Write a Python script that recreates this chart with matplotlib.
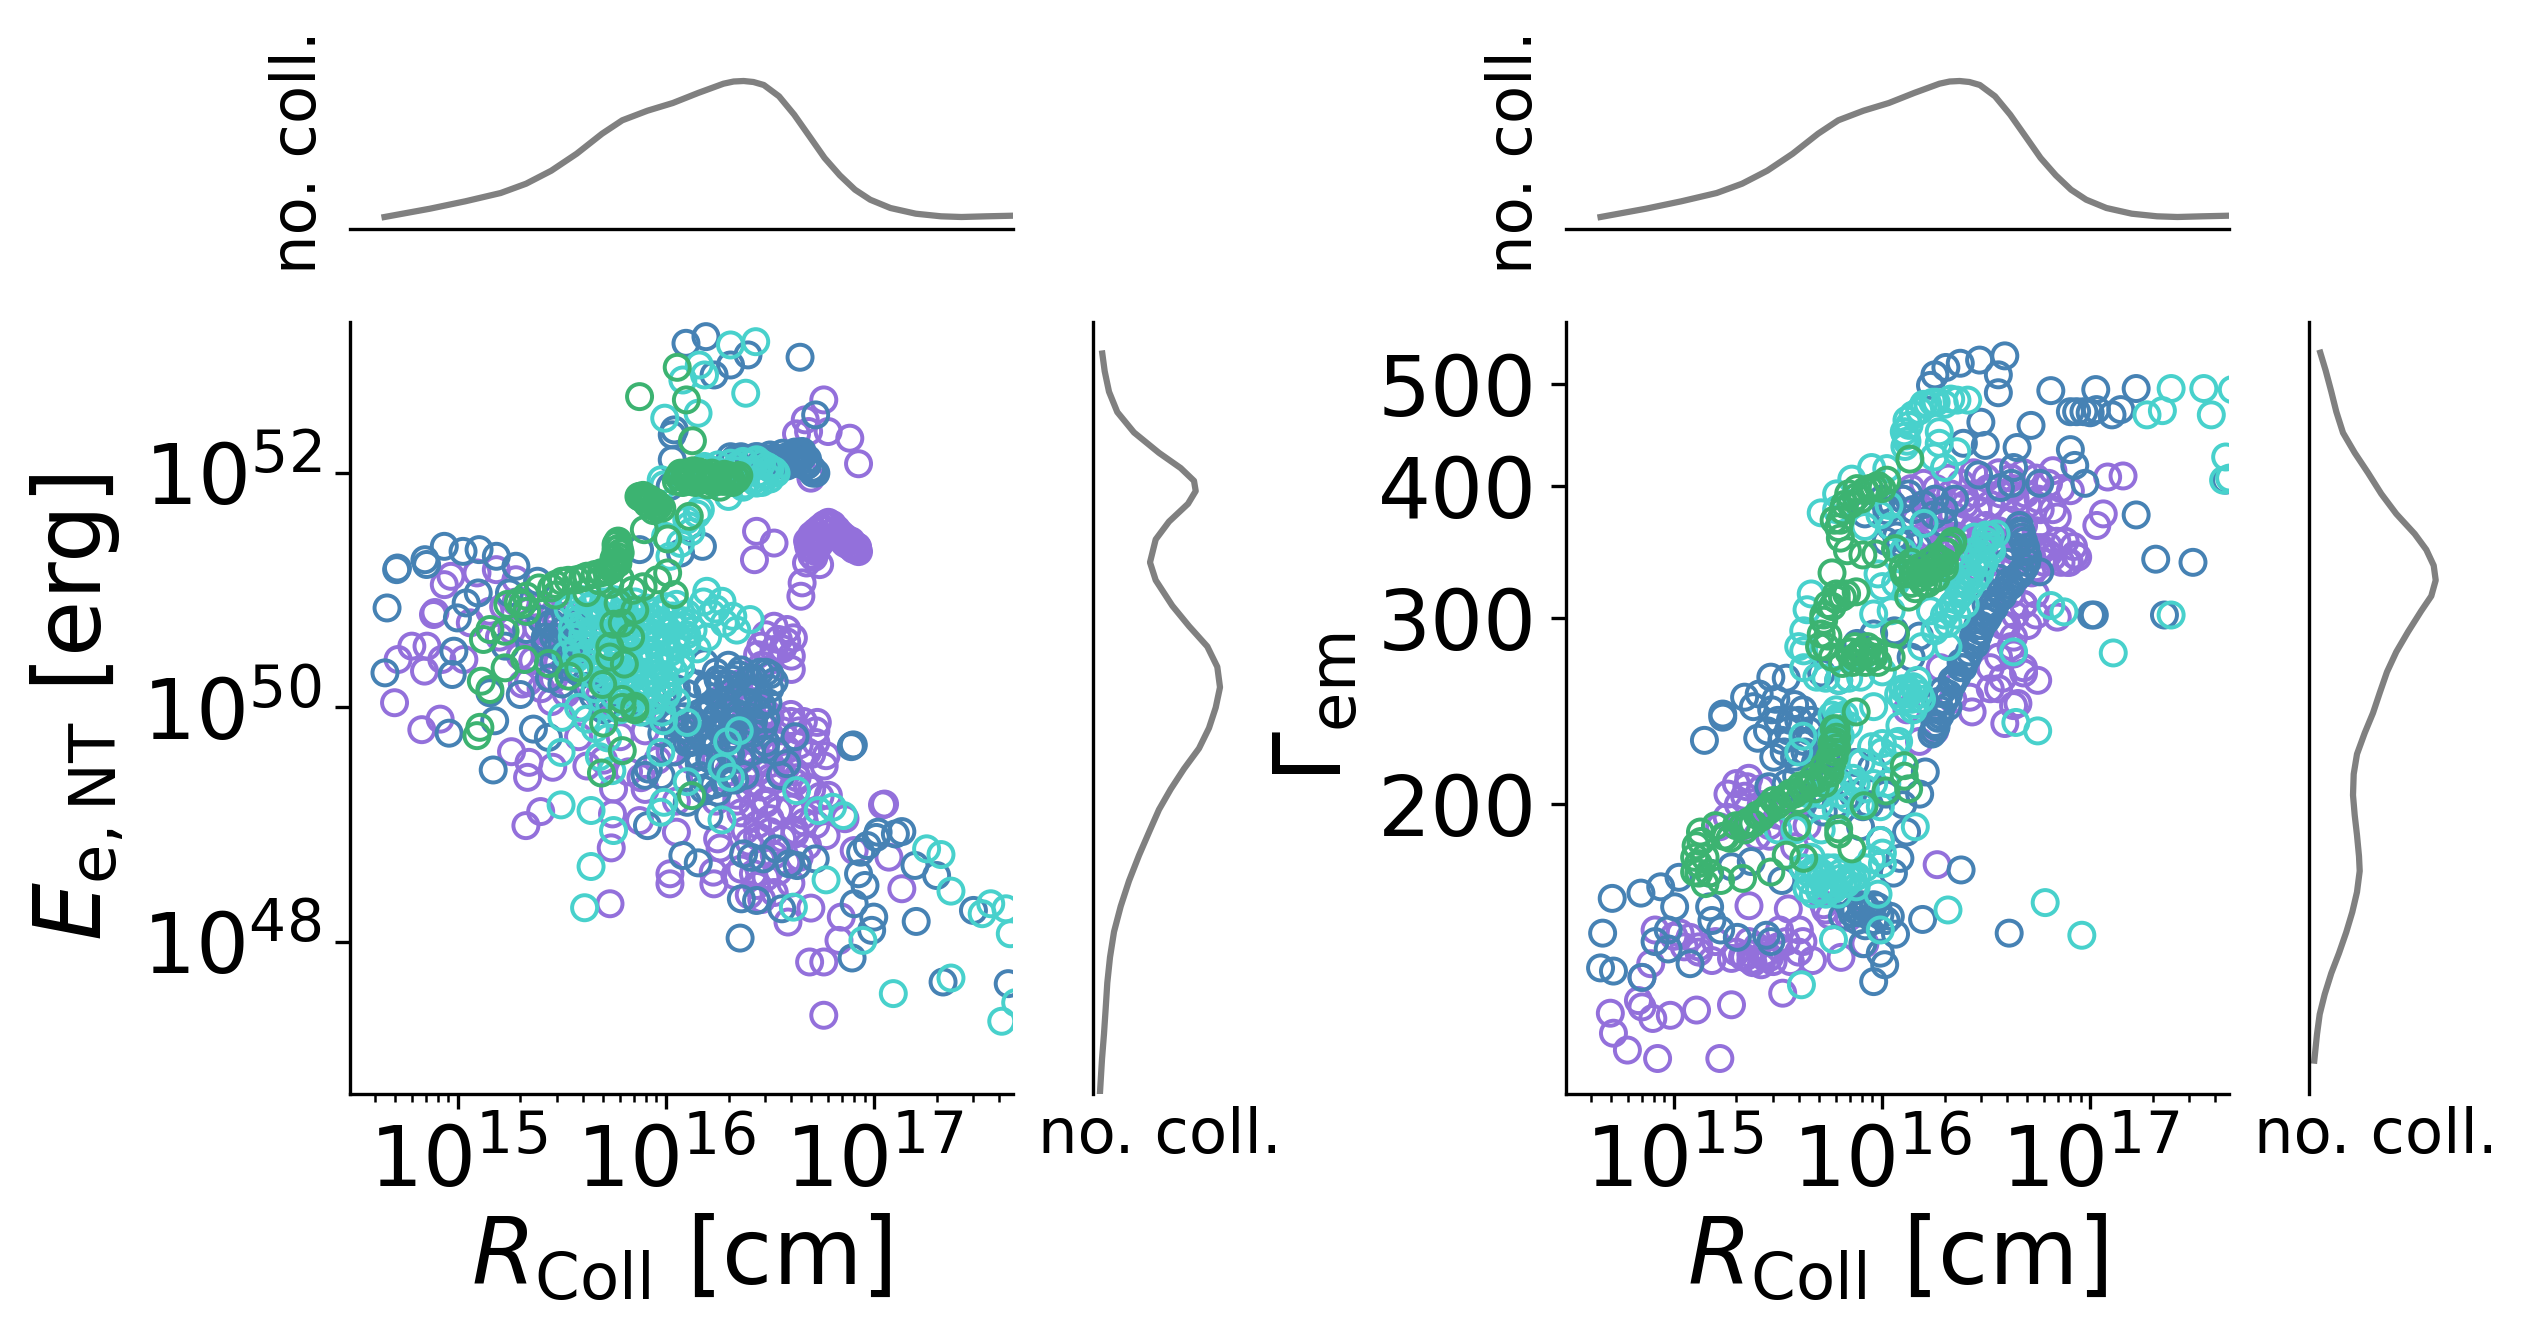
import numpy as np
import matplotlib
matplotlib.use("Agg")
import matplotlib.pyplot as plt

W, H = 2527, 1340

# colours of the four shell populations (drawn in this order)
colors = ["mediumpurple", "steelblue", "mediumturquoise", "mediumseagreen"]

# --- left panel, log10(R_coll) and log10(E_e,NT) ---
purple_r = [
    16.758, 16.669, 16.627, 16.685, 16.779, 16.883, 16.925, 16.696, 16.435, 16.519, 16.425,
    16.779, 16.80, 16.831, 16.87, 16.915, 16.925, 16.727, 16.70, 16.685, 16.76, 16.85, 16.89, 16.92,
    16.74, 16.72, 16.71, 16.80, 16.738, 16.675, 16.654, 16.648, 16.70, 16.69, 16.68,
    14.967, 15.092, 15.185, 15.279, 14.935, 14.883, 14.89, 15.06, 15.154, 14.779, 14.852, 14.713, 14.84,
    14.923, 15.029, 14.696, 14.915, 14.827, 15.258, 15.342, 15.335, 15.456, 15.398, 15.327, 15.20, 15.31, 15.45,
    16.519, 16.581, 16.612, 16.456, 16.519, 16.602, 16.602, 16.48, 16.54, 16.56, 16.50, 16.44, 16.46, 16.58,
    16.39, 16.35, 16.42, 16.30, 16.45, 16.38, 16.28, 16.34, 16.40, 16.46, 16.50, 16.32, 16.36, 16.42, 16.48,
    16.38, 16.44, 16.50, 16.34, 16.40, 16.46, 16.52, 16.36, 16.42, 16.48, 16.38, 16.44, 16.50, 16.40, 16.46,
    16.30, 16.34, 16.56, 16.60, 16.64, 16.54, 16.58, 16.62, 16.68, 16.72,
    16.727, 16.769, 16.63, 16.665, 16.769, 17.04, 17.05, 16.904, 17.071, 17.133, 16.842, 16.831, 16.69, 16.758,
    16.696, 16.586, 16.758, 15.731, 15.737, 15.743, 15.748, 15.873, 16.05, 16.019, 16.019, 16.227, 16.23,
    16.331, 16.435, 16.248, 16.26, 16.05, 15.90, 15.82, 15.70, 15.62, 15.58, 15.78, 15.88, 15.96, 16.02, 16.12,
    16.18, 16.24, 15.90, 16.00, 16.10, 16.20, 15.60, 15.68, 15.76, 16.70, 16.78, 16.86, 16.62,
    # filled blob near 10^51.5
    16.70, 16.72, 16.74, 16.76, 16.78, 16.80, 16.82, 16.84, 16.86, 16.88, 16.90, 16.92, 16.72, 16.74, 16.76,
    16.70, 16.69, 16.71, 16.84, 16.86, 16.88, 16.90, 16.92, 16.80, 16.82,
    # dense lower cloud
    16.30, 16.36, 16.42, 16.48, 16.54, 16.60, 16.66, 16.72, 16.34, 16.40, 16.46, 16.52, 16.58, 16.64, 16.70, 16.76,
    16.38, 16.44, 16.50, 16.56, 16.62, 16.68, 16.74, 16.42, 16.48, 16.54, 16.60, 16.66, 16.72, 16.44, 16.50, 16.56,
    16.62, 16.68, 16.46, 16.52, 16.58, 16.64, 16.36, 16.42, 16.48, 16.54, 16.60, 16.40, 16.46, 16.52,
    # left cloud
    15.22, 15.28, 15.34, 15.40, 15.46, 15.52, 15.26, 15.32, 15.38, 15.44, 15.50, 15.30, 15.36, 15.42, 15.48, 15.54,
    15.34, 15.40, 15.46, 15.52,
]
purple_e = [
    52.625, 52.455, 52.335, 52.355, 52.355, 52.298, 52.08, 51.957, 51.503, 51.403, 51.261,
    51.574, 51.55, 51.489, 51.43, 51.375, 51.33, 51.46, 51.43, 51.375, 51.52, 51.42, 51.42, 51.36,
    51.40, 51.33, 51.28, 51.50, 51.219, 51.233, 51.063, 50.949, 51.30, 51.36, 51.42,
    51.119, 51.148, 51.176, 51.09, 51.048, 50.793, 50.81, 50.722, 50.821, 50.523, 50.523, 50.409, 50.31,
    50.409, 50.409, 50.04, 49.9, 49.81, 49.622, 49.531, 49.403, 49.489, 49.111, 48.991, 50.60, 50.20, 50.05,
    50.693, 50.665, 50.594, 50.523, 50.494, 50.438, 50.324, 50.62, 50.58, 50.50, 50.40, 50.45, 50.36, 50.56,
    50.125, 50.20, 50.05, 49.95, 50.00, 49.90, 50.10, 49.80, 49.75, 49.85, 49.92, 49.62, 49.55, 49.62, 49.70,
    49.40, 49.45, 49.52, 49.25, 49.30, 49.32, 49.38, 49.10, 49.15, 49.20, 48.95, 49.00, 49.05, 48.85, 48.88,
    49.45, 49.20, 49.80, 49.88, 49.80, 49.60, 49.50, 49.45, 49.62, 49.70,
    49.872, 49.588, 49.40, 49.02, 48.906, 49.168, 49.175, 48.778, 48.722, 48.452, 48.21, 48.011, 47.827, 47.827,
    48.287, 48.168, 47.372, 48.324, 48.801, 49.091, 49.304, 49.034, 48.935, 48.58, 48.494, 48.594, 48.494,
    48.565, 48.48, 48.878, 48.80, 49.20, 49.30, 49.45, 49.55, 49.50, 49.75, 49.75, 49.40, 49.55, 49.62, 49.55,
    49.40, 49.20, 49.80, 49.90, 49.80, 49.70, 50.00, 50.10, 50.00, 49.30, 49.25, 49.05, 48.95,
    51.47, 51.50, 51.53, 51.56, 51.58, 51.56, 51.52, 51.48, 51.45, 51.42, 51.39, 51.37, 51.40, 51.42, 51.45,
    51.40, 51.36, 51.35, 51.44, 51.40, 51.38, 51.35, 51.34, 51.50, 51.46,
    49.95, 49.98, 49.92, 49.96, 49.90, 49.94, 49.88, 49.80, 49.68, 49.72, 49.66, 49.70, 49.64, 49.68, 49.60, 49.50,
    49.42, 49.46, 49.40, 49.44, 49.36, 49.32, 49.24, 49.15, 49.18, 49.12, 49.14, 49.08, 49.00, 48.90, 48.94, 48.88,
    48.92, 48.82, 48.70, 48.74, 48.68, 48.72, 48.62, 48.58, 48.55, 48.60, 48.50, 48.40, 48.36, 48.42,
    50.86, 50.90, 50.82, 50.86, 50.80, 50.78, 50.66, 50.62, 50.68, 50.62, 50.58, 50.44, 50.40, 50.46, 50.38, 50.42,
    50.22, 50.16, 50.24, 50.12,
]
blue_r = [
    16.096, 16.192, 16.394, 16.31, 16.231, 16.644, 16.04, 16.03, 16.03, 16.719, 16.02, 16.175, 16.07, 15.873,
    16.31, 16.37, 16.43, 16.50, 16.56, 16.62, 16.654, 16.68, 16.706, 16.68, 16.60, 16.52, 16.46, 16.40,
    14.706, 14.71, 14.842, 14.85, 14.935, 15.025, 15.102, 15.185, 15.279, 15.383, 14.66, 15.098, 15.04, 14.998,
    15.248, 15.331, 15.227, 14.981, 14.65, 14.973, 15.154, 15.30, 15.45, 15.50, 15.55, 15.42, 15.48, 15.54, 15.60,
    15.46, 15.52, 15.44, 15.50, 15.58, 15.62,
    16.185, 16.24, 16.30, 16.36, 16.42, 16.48, 16.52, 16.20, 16.26, 16.32, 16.38, 16.44, 16.50, 16.22, 16.28,
    16.34, 16.40, 16.46, 16.24, 16.30, 16.36, 16.42, 16.48, 16.14, 16.20, 16.26, 16.32, 16.38, 16.06, 16.12,
    16.18, 16.24, 16.30, 15.98, 16.04, 16.10, 16.16, 16.22, 16.28, 15.92, 15.98, 16.04, 16.10, 16.16, 16.22,
    14.958, 15.177, 15.17, 15.363, 15.435, 16.894, 16.90, 16.89, 16.477, 16.48, 16.55, 15.915, 15.90, 15.977,
    16.081, 16.155, 15.911, 16.373, 16.41, 16.467, 16.529, 16.592, 16.63, 16.717, 16.362, 16.435, 16.556,
    16.356, 16.925, 16.956, 16.904, 16.998, 16.988, 16.894, 17.202, 16.935, 16.967, 17.019, 17.01, 17.102, 17.133,
    17.196, 17.30, 17.477, 17.331, 17.644, 16.248, 16.206, 16.102, 16.165, 16.53, 16.58, 16.62, 15.65, 15.70,
    # filled end of the upper track
    16.56, 16.58, 16.60, 16.62, 16.64, 16.66, 16.68, 16.70, 16.72, 16.58, 16.61, 16.64, 16.67, 16.70, 16.55, 16.52,
    16.48, 16.44, 16.40, 16.36, 16.33,
    # dense patches
    15.40, 15.44, 15.48, 15.52, 15.56, 15.42, 15.46, 15.50, 15.54, 15.58, 16.00, 16.05, 16.10, 16.15, 16.20, 16.25,
    16.30, 16.35, 16.40, 16.45, 16.50, 16.04, 16.09, 16.14, 16.19, 16.24, 16.29, 16.34, 16.39, 16.44, 16.49, 16.12,
    16.17, 16.22, 16.27, 16.32, 16.37, 16.42, 16.47, 16.16, 16.21, 16.26, 16.31, 16.36, 16.41, 16.18, 16.23, 16.28,
    16.33, 16.38,
]
blue_e = [
    53.108, 53.165, 53.009, 52.923, 52.838, 52.989, 52.369, 52.327, 52.114, 52.497, 51.886, 51.375, 51.318, 51.347,
    52.14, 52.13, 52.14, 52.155, 52.17, 52.18, 52.185, 52.12, 52.0, 52.07, 52.10, 52.11, 52.10, 52.08,
    51.176, 51.19, 51.261, 51.22, 51.375, 51.332, 51.347, 51.29, 51.205, 51.077, 50.849, 50.977, 50.892, 50.764,
    50.977, 50.665, 50.523, 50.48, 50.295, 50.281, 50.125, 50.11, 50.72, 50.65, 50.58, 50.60, 50.52, 50.48, 50.66,
    50.40, 50.35, 50.25, 50.20, 50.30, 50.18,
    50.38, 50.30, 50.36, 50.32, 50.25, 50.30, 50.22, 50.18, 50.20, 50.24, 50.15, 50.12, 50.16, 50.02, 50.06,
    50.08, 50.04, 50.02, 49.92, 49.96, 49.92, 49.88, 49.90, 49.82, 49.85, 49.80, 49.82, 49.78, 49.75, 49.70,
    49.72, 49.68, 49.62, 49.78, 49.62, 49.70, 49.58, 49.55, 49.50, 49.95, 49.90, 49.88, 49.82, 49.95, 50.0,
    49.78, 49.886, 49.466, 49.815, 49.744, 49.673, 49.68, 49.665, 49.645, 49.70, 49.418, 49.474, 49.42, 49.418,
    48.736, 48.673, 48.991, 48.75, 48.72, 48.707, 48.793, 48.665, 48.65, 48.707, 48.366, 48.352, 48.281,
    48.031, 48.58, 48.48, 48.324, 48.21, 48.097, 47.861, 48.173, 48.764, 48.821, 48.935, 48.89, 48.92, 48.94,
    48.651, 48.565, 48.267, 47.656, 47.642, 49.276, 49.077, 49.19, 49.418, 49.62, 49.52, 49.75, 50.10, 49.98,
    52.12, 52.14, 52.15, 52.16, 52.17, 52.15, 52.09, 52.04, 52.0, 52.06, 52.08, 52.10, 52.06, 52.02, 52.10, 52.13,
    52.12, 52.14, 52.12, 52.14, 52.12,
    50.75, 50.70, 50.74, 50.68, 50.72, 50.56, 50.60, 50.54, 50.58, 50.50, 50.10, 50.16, 50.12, 50.20, 50.16, 50.24,
    50.20, 50.28, 50.24, 50.30, 50.28, 49.86, 49.92, 49.88, 49.94, 49.90, 49.98, 49.94, 50.02, 49.98, 50.04, 49.72,
    49.76, 49.74, 49.80, 49.76, 49.82, 49.78, 49.84, 49.52, 49.56, 49.54, 49.60, 49.56, 49.62, 49.30, 49.34, 49.36,
    49.38, 49.42,
]
turq_r = [
    16.31, 16.431, 16.16, 16.081, 16.185, 16.383, 16.154, 15.994,
    16.185, 16.25, 16.31, 16.37, 16.435, 16.485, 16.529, 16.50, 16.435, 16.37, 16.3, 15.977, 15.99, 16.165, 16.15, 15.998,
    16.07, 16.019, 16.10, 16.12, 16.11,
    15.55, 15.60, 15.65, 15.70, 15.75, 15.80, 15.85, 15.90, 15.95, 16.00, 16.05, 16.10, 15.58, 15.63, 15.68, 15.73,
    15.78, 15.83, 15.88, 15.93, 15.98, 16.03, 16.08, 16.13, 15.55, 15.60, 15.65, 15.70, 15.75, 15.80, 15.85, 15.90,
    15.95, 16.00, 16.05, 16.10, 16.15, 15.52, 15.57, 15.62, 15.67, 15.72, 15.77, 15.82, 15.87, 15.92, 15.97, 16.02,
    16.07, 15.65, 15.70, 15.75, 15.80, 15.85, 15.90, 15.95, 16.00, 15.75, 15.80, 15.85, 15.90, 15.95, 16.00, 16.05,
    16.196, 16.269, 16.321, 16.404, 16.22, 16.28, 16.34, 16.18, 16.24, 16.20,
    15.5, 15.496, 15.496, 15.64, 15.748, 15.64, 15.609, 15.975, 15.99, 16.269, 16.102, 16.31, 16.269, 16.296, 16.352,
    15.975, 16.102, 15.988, 16.627, 16.731, 16.80, 16.852, 17.252, 17.321, 17.369, 17.56, 17.519, 17.633, 17.654,
    16.612, 16.769, 16.946, 17.369, 17.092, 17.613, 17.68, 15.58, 15.62, 15.66, 15.72, 15.68, 15.74,
    # filled part of the upper track
    16.34, 16.38, 16.42, 16.46, 16.50, 16.52, 16.40, 16.44, 16.48, 16.36, 16.32, 16.28, 16.24, 16.20, 16.42, 16.46,
    16.38, 16.34,
    # central cloud
    15.53, 15.58, 15.63, 15.68, 15.73, 15.78, 15.83, 15.88, 15.93, 15.98, 16.03, 16.08, 15.55, 15.60, 15.65, 15.70,
    15.75, 15.80, 15.85, 15.90, 15.95, 16.00, 16.05, 16.10, 15.57, 15.62, 15.67, 15.72, 15.77, 15.82, 15.87, 15.92,
    15.97, 16.02, 16.07, 15.59, 15.64, 15.69, 15.74, 15.79, 15.84, 15.89, 15.94, 15.99, 16.04, 15.66, 15.71, 15.76,
    15.81, 15.86, 15.91, 15.96, 16.01, 15.73, 15.78, 15.83, 15.88, 15.93, 15.98,
]
turq_e = [
    53.094, 53.122, 52.923, 52.795, 52.838, 52.682, 52.511, 52.469,
    52.057, 52.07, 52.085, 52.10, 52.114, 52.057, 52.0, 51.95, 51.915, 51.88, 51.801, 51.943, 51.90, 51.688, 51.65, 51.46,
    51.40, 51.29, 51.60, 51.50, 51.55,
    50.90, 50.92, 50.88, 50.90, 50.92, 50.88, 50.90, 50.85, 50.82, 50.86, 50.88, 50.80, 50.75, 50.78, 50.74, 50.76,
    50.72, 50.75, 50.72, 50.68, 50.72, 50.70, 50.74, 50.66, 50.60, 50.62, 50.58, 50.60, 50.56, 50.58, 50.55, 50.58,
    50.54, 50.56, 50.52, 50.56, 50.50, 50.45, 50.42, 50.46, 50.42, 50.44, 50.40, 50.42, 50.38, 50.40, 50.36, 50.38,
    50.34, 50.28, 50.25, 50.28, 50.24, 50.26, 50.22, 50.25, 50.20, 50.10, 50.14, 50.08, 50.12, 50.06, 50.10, 50.05,
    50.991, 50.906, 50.778, 50.75, 50.80, 50.72, 50.66, 50.90, 50.84, 50.60,
    49.915, 49.616, 49.168, 49.12, 48.949, 48.642, 48.29, 49.105, 49.19, 49.04, 49.366, 49.403, 49.489, 49.707, 49.801,
    49.616, 49.872, 49.886, 49.29, 49.119, 49.148, 49.077, 48.793, 48.744, 48.432, 48.324, 48.239, 48.281, 48.068,
    48.295, 48.528, 48.011, 47.69, 47.557, 47.321, 47.48, 50.00, 49.90, 49.82, 49.74, 49.58, 49.46,
    52.06, 52.09, 52.10, 52.08, 52.04, 52.02, 52.02, 52.0, 51.98, 51.96, 51.94, 51.98, 52.02, 52.04, 51.94, 51.92,
    51.90, 52.02,
    50.84, 50.80, 50.85, 50.81, 50.84, 50.80, 50.83, 50.79, 50.77, 50.80, 50.78, 50.70, 50.68, 50.71, 50.66, 50.69,
    50.65, 50.68, 50.64, 50.67, 50.63, 50.65, 50.60, 50.62, 50.50, 50.53, 50.49, 50.52, 50.48, 50.50, 50.46, 50.49,
    50.45, 50.47, 50.42, 50.34, 50.37, 50.33, 50.35, 50.31, 50.34, 50.30, 50.32, 50.28, 50.30, 50.16, 50.19, 50.15,
    50.18, 50.14, 50.16, 50.12, 50.14, 50.02, 49.98, 50.02, 49.96, 50.0, 49.96,
]
green_r = [
    16.054, 15.873, 16.098, 16.127,
    16.06, 16.09, 16.12, 16.15, 16.18, 16.21, 16.24, 16.27, 16.30, 16.33, 16.35, 16.08, 16.14, 16.20, 16.26, 16.32,
    15.883, 15.90, 15.93, 15.95, 15.98, 16.112, 15.896, 16.008, 15.87, 15.91, 15.94,
    15.769, 15.76, 15.75, 15.769, 15.74, 15.69, 15.62, 15.57, 15.50, 15.45, 15.39, 15.33, 15.31, 15.24, 15.29, 15.33,
    15.47, 15.62, 15.68, 15.73, 15.78, 15.72,
    16.008, 15.96, 15.89, 15.84, 16.04, 15.77, 15.85, 15.79, 15.75, 15.83, 15.73, 15.73, 15.80,
    15.154, 15.123, 15.227, 15.227, 15.321, 15.435, 15.581, 15.533, 15.113, 15.154, 15.696, 15.79, 15.85,
    15.106, 15.092, 15.70, 15.79, 15.69, 16.123, 15.79, 15.85,
    # filled blob and the bent track below it
    16.07, 16.10, 16.13, 16.16, 16.19, 16.22, 16.25, 16.28, 16.31, 16.34, 16.05, 16.11, 16.17, 16.23, 16.29, 16.12,
    16.18, 16.24, 16.30, 16.10, 16.16, 16.22,
    15.875, 15.89, 15.905, 15.92, 15.935, 15.95, 15.965,
    15.77, 15.76, 15.775, 15.78, 15.765, 15.755, 15.745, 15.72, 15.66, 15.60, 15.53, 15.47,
]
green_e = [
    52.903, 52.653, 52.625, 52.276,
    51.97, 52.0, 52.0, 51.99, 51.97, 51.96, 51.95, 51.93, 51.95, 51.97, 51.98, 51.92, 51.92, 51.90, 51.88, 51.92,
    51.787, 51.78, 51.76, 51.72, 51.70, 51.631, 51.517, 51.438, 51.80, 51.74, 51.68,
    51.403, 51.345, 51.27, 51.23, 51.18, 51.15, 51.12, 51.09, 51.077, 51.02, 51.02, 50.95, 50.88, 50.88, 50.90, 50.82,
    50.96, 50.98, 51.08, 51.05, 51.10, 51.16,
    51.148, 51.09, 51.03, 51.0, 50.963, 50.89, 50.83, 50.72, 50.71, 50.60, 50.52, 50.43, 50.37,
    50.665, 50.58, 50.65, 50.338, 50.409, 50.375, 50.338, 50.267, 50.224, 50.153, 50.196, 50.068, 50.01,
    49.83, 49.759, 49.866, 49.631, 49.44, 49.247, 50.0, 49.98,
    52.0, 51.98, 52.02, 52.01, 51.99, 51.93, 51.97, 51.99, 51.96, 51.95, 51.93, 51.93, 51.94, 51.92, 51.93, 51.98,
    51.96, 51.96, 51.98, 51.95, 51.98, 52.0,
    51.80, 51.81, 51.79, 51.78, 51.76, 51.75, 51.72,
    51.42, 51.39, 51.36, 51.32, 51.29, 51.24, 51.21, 51.16, 51.135, 51.105, 51.085, 51.05,
]

# --- right panel, log10(R_coll) and log10(Gamma_em) ---
purple2_r = [
    16.10, 16.14, 16.20, 16.26, 16.32, 16.38, 16.44, 16.50, 16.56, 16.62, 16.68, 16.74, 16.80, 16.86, 16.16, 16.22,
    16.28, 16.34, 16.40, 16.46, 16.52, 16.58, 16.64, 16.70, 16.76, 16.82, 16.20, 16.26, 16.32, 16.38, 16.44, 16.50,
    16.56, 16.62, 16.68, 16.74, 16.25, 16.31, 16.37, 16.43, 16.49, 16.55,
    16.821, 16.905, 16.842, 17.158, 17.084, 17.063, 17.032, 16.926, 16.89, 16.8, 16.76, 16.737, 16.842, 16.68,
    16.632, 16.632, 16.748, 16.68, 16.653, 16.52, 16.46, 16.422, 16.56, 16.632, 16.59, 16.433, 16.254, 16.60, 16.72,
    15.351, 15.34, 15.31, 15.256, 15.22, 15.55, 15.361, 15.729, 15.75, 15.72, 15.84, 16.265,
    14.91, 15.078, 15.183, 15.277, 15.37, 15.37, 15.477, 15.56, 15.666, 15.803, 15.603, 15.508, 15.918, 15.60, 15.43,
    15.33, 15.12, 15.03, 14.847, 14.889, 14.83, 14.847, 14.899, 14.983, 15.109, 15.277, 14.695, 14.71, 14.777, 14.922,
    15.221, 15.523, 15.42, 15.46, 15.50, 15.58, 15.64, 16.12, 16.18, 16.28, 16.34,
    # filled blob at the top end
    16.72, 16.76, 16.80, 16.84, 16.88, 16.92, 16.94, 16.90, 16.86, 16.82, 16.78, 16.74,
    16.15, 16.21, 16.27, 16.33, 16.39, 16.45, 16.51, 16.57, 16.63, 16.69, 16.75, 16.18, 16.24, 16.30, 16.36, 16.42,
    16.48, 16.54, 16.60, 16.66, 16.72, 16.22, 16.28, 16.34, 16.40, 16.46, 16.52, 16.58,
    16.62, 16.68, 16.74, 16.58, 16.64, 16.70, 16.56, 16.62, 16.68, 16.52, 16.58,
    15.30, 15.34, 15.38, 15.42, 15.46, 15.36, 15.40, 15.44, 15.50, 15.20, 15.12, 15.05, 15.0, 15.54, 15.62,
    15.26, 15.30, 15.36, 15.42, 15.34, 15.40, 15.46,
]
purple2_g = [
    2.59, 2.60, 2.605, 2.60, 2.61, 2.605, 2.615, 2.61, 2.615, 2.61, 2.615, 2.61, 2.605, 2.60, 2.57, 2.575,
    2.58, 2.575, 2.585, 2.58, 2.585, 2.58, 2.59, 2.585, 2.58, 2.58, 2.555, 2.56, 2.555, 2.565, 2.56, 2.565,
    2.56, 2.57, 2.565, 2.56, 2.535, 2.54, 2.545, 2.54, 2.545, 2.55,
    2.617, 2.598, 2.573, 2.612, 2.611, 2.576, 2.565, 2.537, 2.53, 2.538, 2.544, 2.50, 2.478, 2.49,
    2.459, 2.443, 2.418, 2.425, 2.396, 2.43, 2.46, 2.402, 2.41, 2.394, 2.377, 2.388, 2.37, 2.47, 2.52,
    2.317, 2.308, 2.30, 2.288, 2.279, 2.201, 2.204, 2.20, 2.195, 2.205, 2.193, 2.243,
    2.181, 2.174, 2.152, 2.154, 2.158, 2.152, 2.151, 2.151, 2.152, 2.155, 2.181, 2.181, 2.168, 2.16, 2.156,
    2.156, 2.165, 2.178, 2.136, 2.149, 2.114, 2.108, 2.097, 2.10, 2.105, 2.11, 2.102, 2.083, 2.067, 2.059,
    2.059, 2.121, 2.30, 2.27, 2.29, 2.26, 2.28, 2.39, 2.36, 2.43, 2.40,
    2.535, 2.54, 2.545, 2.55, 2.55, 2.545, 2.535, 2.53, 2.53, 2.535, 2.53, 2.525,
    2.58, 2.585, 2.59, 2.595, 2.59, 2.595, 2.60, 2.595, 2.60, 2.595, 2.59, 2.55, 2.555, 2.55, 2.555, 2.55,
    2.555, 2.55, 2.545, 2.55, 2.545, 2.525, 2.53, 2.525, 2.53, 2.525, 2.53, 2.52,
    2.50, 2.49, 2.48, 2.47, 2.48, 2.47, 2.44, 2.45, 2.43, 2.41, 2.42,
    2.16, 2.155, 2.15, 2.148, 2.155, 2.17, 2.165, 2.16, 2.165, 2.17, 2.16, 2.165, 2.175, 2.17, 2.17,
    2.31, 2.32, 2.325, 2.315, 2.28, 2.27, 2.28,
]
blue2_r = [
    16.59, 16.469, 16.376, 16.307, 16.254, 16.233, 16.559, 16.559, 16.811, 17.027, 17.221,
    16.905, 16.935, 16.97, 17.0, 17.03, 17.105, 17.147, 16.475, 16.496, 16.391, 16.716, 16.649, 16.905, 16.926, 16.975,
    16.632, 16.622, 16.569, 16.758, 16.464, 17.221, 17.315, 17.494, 17.006, 17.02, 17.357, 17.651, 16.758,
    16.349, 16.254, 16.128, 16.023, 16.202, 16.04, 15.918, 16.296, 16.086,
    16.664, 16.67, 16.69, 16.70, 16.67, 16.61, 16.57, 16.53, 16.51, 16.47, 16.45, 16.41, 16.39, 16.336, 16.29, 16.27,
    16.317, 16.28, 16.254, 16.25, 16.24, 16.64, 16.60, 16.56, 16.50, 16.46, 16.44, 16.38, 16.35,
    15.235, 15.34, 15.466, 15.54, 15.41, 15.49, 15.58, 15.62, 15.792, 15.71, 15.88, 15.96, 16.06, 16.14, 16.18,
    15.235, 15.147, 15.403, 15.519, 15.624, 15.382, 15.47, 15.56, 15.66, 15.54, 15.59, 15.687, 15.456,
    15.718, 15.897, 16.118, 15.992, 16.086, 16.055, 16.208, 16.181, 15.908, 15.87, 15.95,
    15.519, 15.372, 15.277, 15.172, 15.025, 14.937, 14.842, 14.704, 14.658, 14.648, 14.71, 14.847, 15.078, 14.973,
    14.91, 14.973, 15.004, 15.172, 15.183, 15.225, 15.305, 15.445, 15.466, 15.855, 15.90, 15.92, 15.98, 15.81, 16.04,
    16.065, 15.992, 16.013, 15.96, 16.195, 16.38, 16.611, 15.908, 15.62, 15.70, 15.78, 15.86, 15.94, 16.02, 16.10,
    # thick band
    16.66, 16.67, 16.68, 16.69, 16.695, 16.685, 16.66, 16.64, 16.62, 16.60, 16.58, 16.56, 16.54, 16.52, 16.50, 16.48,
    16.46, 16.44, 16.42, 16.40, 16.38, 16.36, 16.34, 16.32, 16.30, 16.28, 16.27, 16.26,
    15.45, 15.50, 15.55, 15.60, 15.65, 15.70, 15.75, 15.48, 15.53, 15.58, 15.63, 15.68, 15.73,
    15.84, 15.87, 15.90, 15.93, 15.96, 15.99, 16.02, 15.88, 15.92, 15.96,
    16.0, 16.05, 16.1, 16.15, 16.2, 16.25, 16.3, 16.02, 16.07, 16.12, 16.17,
]
blue2_g = [
    2.726, 2.722, 2.719, 2.715, 2.708, 2.698, 2.708, 2.691, 2.693, 2.694, 2.695,
    2.673, 2.673, 2.673, 2.672, 2.675, 2.67, 2.675, 2.663, 2.641, 2.643, 2.66, 2.639, 2.637, 2.622, 2.605,
    2.62, 2.605, 2.601, 2.605, 2.613, 2.575, 2.533, 2.53, 2.48, 2.48, 2.48, 2.608, 2.521,
    2.59, 2.59, 2.595, 2.579, 2.567, 2.564, 2.576, 2.567, 2.548,
    2.56, 2.554, 2.544, 2.535, 2.521, 2.512, 2.502, 2.49, 2.478, 2.465, 2.452, 2.44, 2.43, 2.418, 2.408, 2.398,
    2.393, 2.385, 2.377, 2.37, 2.367, 2.545, 2.53, 2.515, 2.49, 2.47, 2.46, 2.435, 2.42,
    2.386, 2.402, 2.421, 2.42, 2.405, 2.40, 2.395, 2.39, 2.418, 2.425, 2.453, 2.462, 2.465, 2.44, 2.46,
    2.383, 2.361, 2.363, 2.361, 2.36, 2.393, 2.39, 2.38, 2.38, 2.32, 2.327, 2.334, 2.317,
    2.293, 2.279, 2.274, 2.266, 2.249, 2.235, 2.331, 2.31, 2.298, 2.34, 2.335,
    2.228, 2.246, 2.241, 2.235, 2.231, 2.222, 2.216, 2.211, 2.178, 2.145, 2.142, 2.136, 2.149, 2.163,
    2.17, 2.181, 2.203, 2.203, 2.19, 2.181, 2.174, 2.176, 2.17, 2.197, 2.197, 2.203, 2.203, 2.194, 2.194,
    2.177, 2.159, 2.148, 2.132, 2.191, 2.238, 2.178, 2.168, 2.30, 2.31, 2.30, 2.31, 2.30, 2.31, 2.30,
    2.565, 2.558, 2.55, 2.54, 2.53, 2.525, 2.518, 2.515, 2.508, 2.505, 2.498, 2.495, 2.487, 2.483, 2.475, 2.47,
    2.46, 2.455, 2.445, 2.437, 2.43, 2.422, 2.415, 2.405, 2.398, 2.39, 2.382, 2.374,
    2.37, 2.38, 2.37, 2.38, 2.37, 2.375, 2.365, 2.345, 2.35, 2.345, 2.35, 2.34, 2.345,
    2.205, 2.20, 2.205, 2.20, 2.205, 2.195, 2.19, 2.19, 2.185, 2.19,
    2.59, 2.585, 2.59, 2.58, 2.585, 2.575, 2.58, 2.55, 2.555, 2.55, 2.545,
]
turq2_r = [
    16.412, 16.33, 16.244, 16.181, 16.12, 16.107, 16.12, 16.275, 16.275, 16.359, 16.30, 16.25,
    17.389, 17.546, 17.683, 17.273, 17.347, 17.582, 17.651, 17.641, 17.67,
    15.95, 15.855, 15.782, 15.708, 15.782, 16.023, 16.034, 16.202, 16.044, 15.918, 16.128, 16.10, 15.99,
    16.443, 16.50, 16.548, 16.527, 16.49, 16.47, 16.45, 16.422, 16.38, 16.34, 16.40, 16.36, 16.42,
    15.981, 16.065, 16.002, 16.233, 16.317, 16.191, 16.317, 16.254, 16.044, 15.96, 16.811, 16.874, 17.389, 17.111, 16.632,
    15.624, 15.624, 15.624, 15.687, 15.792, 15.897, 16.002, 15.64, 15.66, 15.60, 15.73, 15.84,
    16.149, 16.128, 16.17, 16.10, 16.19, 16.16,
    15.96, 15.792, 15.76, 15.792, 16.086, 16.002, 16.065, 15.876, 15.792, 15.96, 16.023, 15.708, 15.992, 16.16,
    16.643, 16.748, 15.582, 15.50, 15.708, 15.992, 16.002,
    15.672, 15.708, 15.75, 15.65, 15.813, 15.876, 15.981, 16.002, 15.95, 15.77, 15.70, 15.68, 15.72, 15.76, 15.80,
    15.84, 15.88, 15.92, 15.66, 15.62, 15.60,
    16.317, 15.992, 15.767, 15.613, 16.784, 16.96,
    # filled stretches
    16.52, 16.50, 16.48, 16.46, 16.44, 16.42, 16.40, 16.38, 16.36, 16.34, 16.32, 16.30, 16.36, 16.40, 16.44, 16.48,
    16.52, 16.28,
    16.12, 16.14, 16.16, 16.10, 16.08, 16.15, 16.18,
    15.76, 15.78, 15.80, 15.82, 15.78, 15.80, 15.76, 15.84,
    16.15, 16.13, 16.115, 16.11, 16.2, 16.22, 16.26, 16.30, 16.36,
    15.62, 15.65, 15.68, 15.71, 15.74, 15.77, 15.80, 15.83, 15.86, 15.64, 15.67, 15.70, 15.73, 15.76, 15.79,
    15.65, 15.72, 15.80, 15.86, 15.92, 15.70, 15.78, 15.84, 15.90,
    16.0, 16.05, 16.08, 15.95, 15.90,
]
turq2_g = [
    2.684, 2.685, 2.682, 2.674, 2.665, 2.654, 2.645, 2.654, 2.643, 2.635, 2.62, 2.63,
    2.695, 2.695, 2.694, 2.67, 2.674, 2.67, 2.63, 2.608, 2.61,
    2.62, 2.609, 2.595, 2.577, 2.58, 2.619, 2.584, 2.567, 2.564, 2.564, 2.551, 2.54, 2.575,
    2.554, 2.556, 2.557, 2.541, 2.53, 2.52, 2.514, 2.507, 2.50, 2.49, 2.49, 2.48, 2.515,
    2.519, 2.51, 2.507, 2.484, 2.472, 2.45, 2.45, 2.465, 2.484, 2.481, 2.489, 2.483, 2.48, 2.444, 2.445,
    2.465, 2.446, 2.43, 2.421, 2.418, 2.421, 2.426, 2.485, 2.50, 2.45, 2.42, 2.42,
    2.412, 2.405, 2.418, 2.41, 2.40, 2.395,
    2.393, 2.377, 2.367, 2.383, 2.375, 2.358, 2.358, 2.32, 2.32, 2.32, 2.32, 2.31, 2.298, 2.279,
    2.378, 2.37, 2.276, 2.276, 2.276, 2.266, 2.254,
    2.238, 2.231, 2.225, 2.228, 2.225, 2.222, 2.215, 2.244, 2.248, 2.24, 2.218, 2.235, 2.225, 2.222, 2.235,
    2.23, 2.232, 2.24, 2.25, 2.365, 2.35,
    2.2, 2.181, 2.172, 2.129, 2.207, 2.176,
    2.555, 2.55, 2.545, 2.535, 2.525, 2.52, 2.51, 2.505, 2.495, 2.49, 2.485, 2.48, 2.51, 2.53, 2.54, 2.53,
    2.545, 2.47,
    2.41, 2.40, 2.41, 2.40, 2.405, 2.39, 2.405,
    2.385, 2.39, 2.38, 2.385, 2.37, 2.365, 2.36, 2.375,
    2.67, 2.66, 2.65, 2.64, 2.68, 2.68, 2.682, 2.68, 2.684,
    2.24, 2.235, 2.24, 2.235, 2.24, 2.22, 2.23, 2.225, 2.23, 2.22, 2.215, 2.22, 2.215, 2.22, 2.215,
    2.31, 2.32, 2.31, 2.325, 2.315, 2.30, 2.295, 2.305, 2.30,
    2.35, 2.345, 2.36, 2.355, 2.34,
]
green2_r = [
    16.134, 16.023, 15.96, 15.876, 15.813, 15.792, 15.80, 15.834, 15.908, 15.97, 16.065, 15.77, 15.85, 15.92,
    16.338, 16.31, 16.28, 16.254, 16.22, 16.19, 16.107, 16.15, 16.254, 16.30, 16.128, 16.16, 16.20,
    15.876, 15.81, 15.761, 15.72, 15.708, 15.73, 15.761, 15.81, 15.918, 15.96, 16.044, 16.065, 15.85, 15.90, 15.87, 15.95,
    15.876, 15.782, 15.782, 15.77, 15.739, 15.70, 15.64, 15.58, 15.54, 15.50, 15.456, 15.40, 15.36, 15.30, 15.128,
    15.24, 15.107, 15.118, 15.10, 15.225, 15.33, 15.466, 15.54, 15.624, 15.592, 15.792, 15.792, 15.855, 15.914,
    16.019, 16.128, 16.107, 16.107, 15.77, 15.76, 15.75, 15.72, 15.67, 15.61, 15.56, 15.48, 15.43, 15.33, 15.27,
    # thick stretches
    16.34, 16.32, 16.30, 16.28, 16.26, 16.24, 16.22, 16.20, 16.18, 16.16, 16.14, 16.12, 16.10, 16.30, 16.26, 16.22,
    16.18, 16.14,
    15.84, 15.87, 15.90, 15.93, 15.96, 15.86, 15.89, 15.92, 15.95, 15.98,
    15.78, 15.775, 15.77, 15.76, 15.75, 15.725, 15.68, 15.66, 15.62, 15.60, 15.56, 15.52, 15.46, 15.42, 15.38, 15.34,
    15.84, 15.80, 15.82, 15.88, 15.90, 15.94, 15.98, 16.0, 15.78, 15.76, 15.74,
    15.72, 15.74, 15.78, 15.83, 15.70,
    15.15, 15.17, 15.13, 15.20, 15.10, 15.25, 15.12, 15.15,
]
green2_g = [
    2.628, 2.608, 2.601, 2.592, 2.579, 2.563, 2.553, 2.541, 2.537, 2.538, 2.543, 2.57, 2.585, 2.598,
    2.548, 2.54, 2.532, 2.526, 2.52, 2.52, 2.519, 2.52, 2.515, 2.53, 2.497, 2.505, 2.51,
    2.502, 2.497, 2.488, 2.475, 2.462, 2.45, 2.44, 2.434, 2.443, 2.446, 2.44, 2.462, 2.445, 2.445, 2.44, 2.44,
    2.388, 2.364, 2.354, 2.345, 2.333, 2.325, 2.318, 2.31, 2.306, 2.30, 2.298, 2.29, 2.284, 2.28, 2.274,
    2.27, 2.261, 2.244, 2.236, 2.228, 2.23, 2.236, 2.252, 2.249, 2.279, 2.277, 2.272, 2.258, 2.299,
    2.313, 2.315, 2.337, 2.327, 2.372, 2.358, 2.345, 2.336, 2.326, 2.318, 2.311, 2.304, 2.293, 2.28, 2.268,
    2.55, 2.545, 2.54, 2.53, 2.535, 2.525, 2.53, 2.52, 2.525, 2.52, 2.53, 2.52, 2.525, 2.525, 2.515, 2.51,
    2.515, 2.51,
    2.445, 2.45, 2.445, 2.45, 2.44, 2.435, 2.44, 2.435, 2.44, 2.435,
    2.372, 2.36, 2.35, 2.34, 2.33, 2.32, 2.315, 2.32, 2.315, 2.305, 2.31, 2.305, 2.295, 2.288, 2.282, 2.276,
    2.595, 2.57, 2.585, 2.60, 2.59, 2.60, 2.603, 2.60, 2.50, 2.52, 2.46,
    2.48, 2.49, 2.495, 2.50, 2.45,
    2.25, 2.235, 2.265, 2.28, 2.25, 2.27, 2.235, 2.225,
]

# smoothed histograms next to the scatter panels
kde_r_x = [14.648, 14.866, 15.036, 15.206, 15.328, 15.449, 15.571, 15.693, 15.79, 15.911, 16.033, 16.154, 16.276,
           16.325, 16.373, 16.42, 16.47, 16.543, 16.616, 16.689, 16.762, 16.835, 16.908, 16.981, 17.078, 17.2, 17.321,
           17.419, 17.54, 17.667]
kde_r_v = [12, 20.3, 27.7, 36, 45.3, 58.3, 75.3, 95.3, 108.7, 118.3, 126, 136, 145.3, 147.5, 148, 147, 144, 132.7,
           114.3, 92.7, 71, 53.7, 39.3, 29.3, 21, 15.3, 12.7, 12, 12.7, 13.3]
kde_e_y = [53.021, 52.869, 52.695, 52.521, 52.347, 52.173, 52.043, 51.934, 51.847, 51.738, 51.586, 51.434, 51.238,
           51.086, 50.868, 50.694, 50.52, 50.346, 50.172, 49.998, 49.824, 49.65, 49.476, 49.302, 49.128, 48.954,
           48.737, 48.519, 48.302, 48.084, 47.867, 47.649, 47.432, 47.214, 46.997, 46.714]
kde_e_v = [9.3, 11.7, 16, 24.3, 41, 66, 87.7, 101, 102.7, 95, 76, 62.7, 57, 62.7, 79.3, 96, 114.3, 124.3, 127,
           122.7, 116, 106, 91, 77.7, 66, 57, 46, 36, 27.7, 21, 17, 14.3, 12.7, 11, 9, 7]
kde_g_y = [2.729, 2.712, 2.692, 2.673, 2.653, 2.634, 2.615, 2.595, 2.576, 2.557, 2.542, 2.527, 2.513, 2.498, 2.484,
           2.464, 2.445, 2.426, 2.406, 2.387, 2.368, 2.348, 2.329, 2.309, 2.29, 2.271, 2.251, 2.237, 2.217, 2.198,
           2.179, 2.159, 2.14, 2.12, 2.101, 2.082, 2.057]
kde_g_v = [11.3, 16.7, 22.3, 27.3, 34, 45.7, 59, 72.3, 87.3, 105.7, 117.3, 124.7, 126.7, 122.3, 112.3, 99, 87.3, 78,
           70.7, 64, 55.7, 48, 44.7, 44, 45.7, 48, 50, 50.7, 48, 43.3, 37.3, 30, 22.3, 15.7, 10.7, 8, 5.3]

xlim = (10**14.482, 10**17.667)
ylim_e = (10**46.70, 10**53.29)
ylim_g = (106, 573)

left_sets = [(purple_r, purple_e), (blue_r, blue_e), (turq_r, turq_e), (green_r, green_e)]
right_sets = [(purple2_r, purple2_g), (blue2_r, blue2_g), (turq2_r, turq2_g), (green2_r, green2_g)]

plt.rcParams["font.family"] = "DejaVu Sans"
plt.rcParams["mathtext.default"] = "it"
fig = plt.figure(figsize=(W / 300, H / 300), dpi=300)


def box(x0, y0, x1, y1):
    # pixel box of the reference -> figure fractions
    return [x0 / W, 1 - y1 / H, (x1 - x0) / W, (y1 - y0) / H]


def panel(x0, sets, side_y, side_v, ylim, ylabel):
    ax = fig.add_axes(box(x0, 322, x0 + 663, 1094))
    for (r, v), c in zip(sets, colors):
        ax.scatter(10 ** np.array(r), 10 ** np.array(v), s=36, facecolors="none", edgecolors=c, linewidths=0.95)
    ax.set_xscale("log")
    ax.set_yscale("log")
    ax.set_xlim(xlim)
    ax.set_ylim(ylim)
    ax.set_xticks([1e15, 1e16, 1e17])
    ax.set_xlabel(r"$R_{\rm Coll}$ [cm]", fontsize=22, labelpad=2)
    ax.set_ylabel(ylabel, fontsize=22, labelpad=4)
    ax.tick_params(labelsize=20)
    ax.spines[["top", "right"]].set_visible(False)

    top = fig.add_axes(box(x0, 75, x0 + 663, 229))
    top.plot(10 ** np.array(kde_r_x), kde_r_v, color="gray", lw=1.5)
    top.set_xscale("log")
    top.set_xlim(xlim)
    top.set_ylim(0, 154)
    top.set_xticks([])
    top.set_xticks([], minor=True)
    top.set_yticks([])
    top.set_ylabel("no. coll.", fontsize=15, labelpad=5)
    top.spines[["top", "right", "left"]].set_visible(False)

    side = fig.add_axes(box(x0 + 743, 322, x0 + 876, 1094))
    side.plot(side_v, 10 ** np.array(side_y), color="gray", lw=1.5)
    side.set_yscale("log")
    side.set_ylim(ylim)
    side.set_xlim(0, 133)
    side.set_xticks([])
    side.set_yticks([])
    side.set_yticks([], minor=True)
    side.set_xlabel("no. coll.", fontsize=15, labelpad=3)
    side.spines[["top", "right", "bottom"]].set_visible(False)
    return ax


ax1 = panel(350, left_sets, kde_e_y, kde_e_v, ylim_e, r"$E_{\rm e,NT}$ [erg]")
ax1.set_yticks([1e48, 1e50, 1e52])
ax1.set_yticks([], minor=True)

ax2 = panel(1566, right_sets, kde_g_y, kde_g_v, ylim_g, r"$\Gamma_{\rm em}$")
ax2.set_yticks([200, 300, 400, 500])
ax2.set_yticklabels(["200", "300", "400", "500"])
ax2.set_yticks([], minor=True)

fig.savefig("out.png", dpi=300)
